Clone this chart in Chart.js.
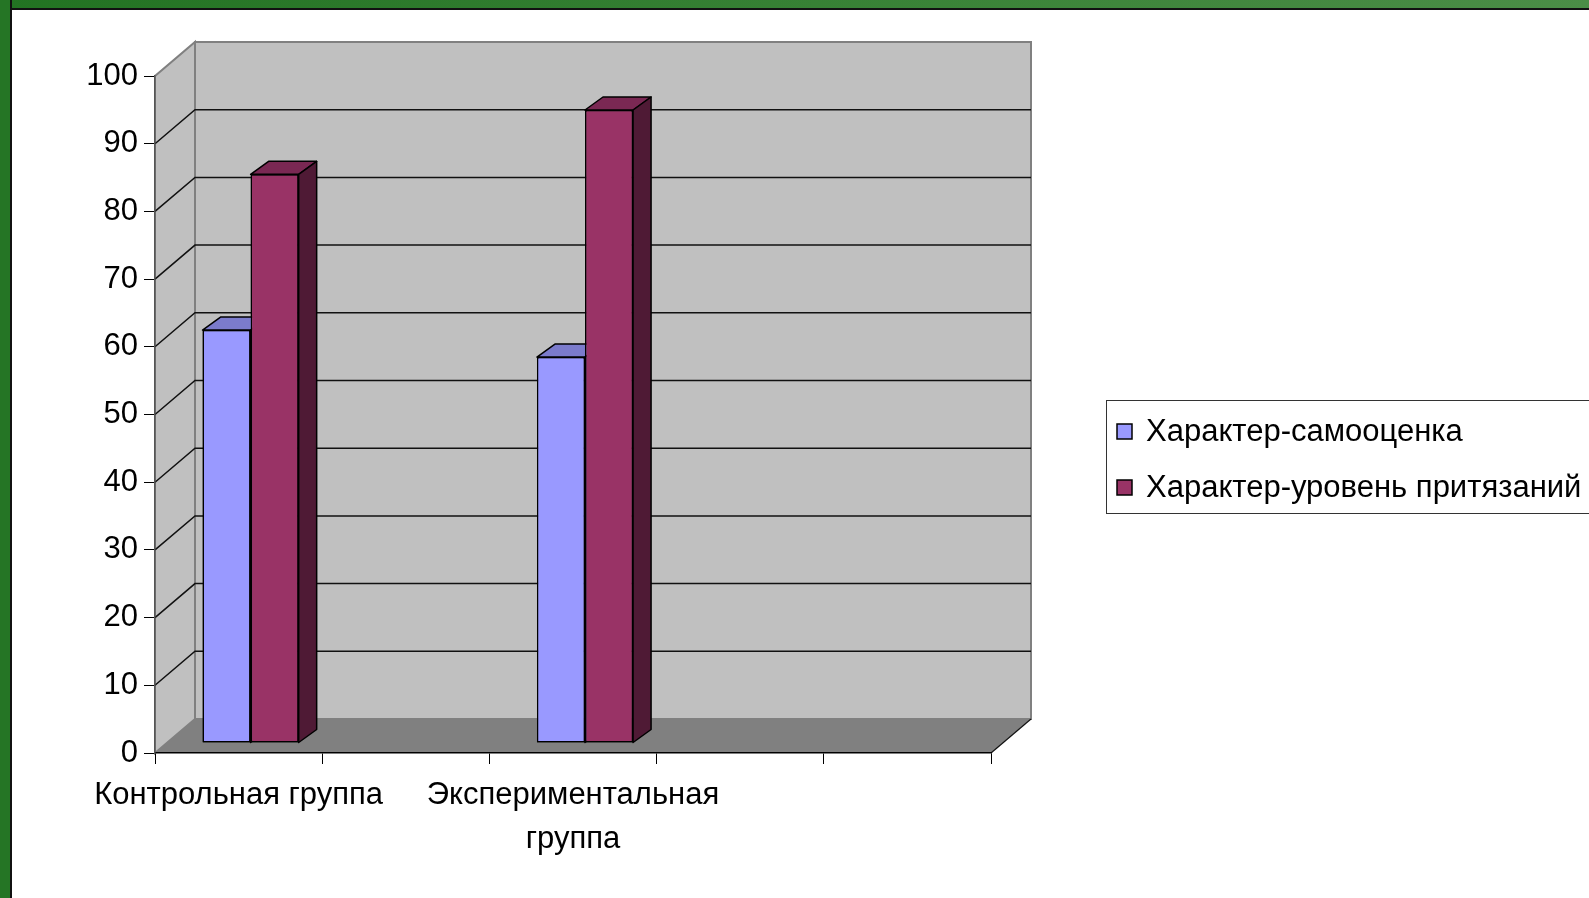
<!DOCTYPE html>
<html>
<head>
<meta charset="utf-8">
<script src="https://cdn.jsdelivr.net/npm/chart.js@4.4.0/dist/chart.umd.min.js"></script>
<style>
    html, body { margin: 0; padding: 0; background: #fff; }
    #wrap { position: relative; width: 1589px; height: 898px; overflow: hidden; }
    #chart { position: absolute; left: 0; top: 0; }
    .frame-top { position: absolute; left: 0; top: 0; width: 1589px; height: 8px; background: linear-gradient(90deg, #227322, #4b8e47); border-bottom: 2px solid #111; }
    .frame-left { position: absolute; left: 0; top: 0; width: 10px; height: 898px; background: #257525; border-right: 2px solid #111; }
</style>
</head>
<body>
<div id="wrap">
    <canvas id="chart" width="1589" height="898"></canvas>
    <div class="frame-top"></div>
    <div class="frame-left"></div>
</div>
<script>
    // data
    const categories = ['Контрольная группа', '', ['Экспериментальная', 'группа'], '', ''];
    const seriesNames = ['Характер-самооценка', 'Характер-уровень притязаний'];
    const selfEsteem = [61, null, 57, null, null];
    const aspiration = [84, null, 93.5, null, null];
    const yMin = 0, yMax = 100, yStep = 10;

    const FONT = '"Liberation Sans", Arial, sans-serif';
    const FONT_SIZE = 31;

    // fake 3d: depth of the walls, where the bars stand, how deep the bars are
    const wallDepth = { x: 40, y: -34 };
    const barShift = { x: 12, y: -10 };
    const barDepth = { x: 18, y: -13 };

    const faceColors = [
        { front: '#9999ff', top: '#7b7bcc', side: '#4d4d80' },
        { front: '#993366', top: '#7a2853', side: '#4f1a35' }
    ];

    function poly(ctx, pts) {
        ctx.beginPath();
        ctx.moveTo(pts[0][0], pts[0][1]);
        for (let i = 1; i < pts.length; i++) ctx.lineTo(pts[i][0], pts[i][1]);
        ctx.closePath();
    }

    const walls3d = {
        id: 'walls3d',
        beforeDraw(chart) {
            const { ctx, chartArea: a, scales: { y } } = chart;
            const dx = wallDepth.x, dy = wallDepth.y;
            const y0 = y.getPixelForValue(yMin), y1 = y.getPixelForValue(yMax);
            ctx.save();

            // floor
            ctx.fillStyle = '#808080';
            poly(ctx, [[a.left, y0], [a.right, y0], [a.right + dx, y0 + dy], [a.left + dx, y0 + dy]]);
            ctx.fill();

            // side wall
            ctx.fillStyle = '#c0c0c0';
            ctx.strokeStyle = '#808080';
            ctx.lineWidth = 2;
            poly(ctx, [[a.left, y0], [a.left, y1], [a.left + dx, y1 + dy], [a.left + dx, y0 + dy]]);
            ctx.fill();
            ctx.stroke();

            // back wall
            ctx.fillRect(a.left + dx, y1 + dy, a.right - a.left, y0 - y1);
            ctx.strokeRect(a.left + dx, y1 + dy, a.right - a.left, y0 - y1);

            // grid lines on the walls
            ctx.strokeStyle = '#111';
            ctx.lineWidth = 1.5;
            for (let v = yMin + yStep; v < yMax; v += yStep) {
                const py = y.getPixelForValue(v);
                ctx.beginPath();
                ctx.moveTo(a.left, py);
                ctx.lineTo(a.left + dx, py + dy);
                ctx.lineTo(a.right + dx, py + dy);
                ctx.stroke();
            }

            // right edge of the floor
            ctx.lineWidth = 1.2;
            ctx.beginPath();
            ctx.moveTo(a.right, y0);
            ctx.lineTo(a.right + dx, y0 + dy);
            ctx.stroke();
            ctx.restore();
        },
        beforeDatasetsDraw(chart) {
            chart.ctx.save();
            chart.ctx.translate(barShift.x, barShift.y);
        },
        afterDatasetsDraw(chart) {
            // redraw every bar left to right so the boxes overlap properly
            const ctx = chart.ctx;
            const bx = barDepth.x, by = barDepth.y;
            chart.data.labels.forEach((lbl, j) => {
                chart.data.datasets.forEach((ds, i) => {
                    if (ds.data[j] == null) return;
                    const el = chart.getDatasetMeta(i).data[j];
                    const col = faceColors[i];
                    const p = el.getProps(['x', 'y', 'base', 'width'], true);
                    const l = p.x - p.width / 2, r = p.x + p.width / 2;
                    el.draw(ctx);
                    ctx.save();
                    ctx.lineWidth = 1.5;
                    ctx.strokeStyle = '#000';
                    ctx.lineJoin = 'round';
                    ctx.fillStyle = col.top;
                    poly(ctx, [[l, p.y], [r, p.y], [r + bx, p.y + by], [l + bx, p.y + by]]);
                    ctx.fill();
                    ctx.stroke();
                    ctx.fillStyle = col.side;
                    poly(ctx, [[r, p.y], [r + bx, p.y + by], [r + bx, p.base + by], [r, p.base]]);
                    ctx.fill();
                    ctx.stroke();
                    ctx.restore();
                });
            });
            ctx.restore();
        }
    };

    const boxLegend = {
        id: 'boxLegend',
        afterDraw(chart) {
            const ctx = chart.ctx;
            ctx.save();
            ctx.strokeStyle = '#333';
            ctx.lineWidth = 1;
            ctx.strokeRect(1106.5, 400.5, 700, 113);
            ctx.font = FONT_SIZE + 'px ' + FONT;
            ctx.textBaseline = 'middle';
            chart.data.datasets.forEach((ds, i) => {
                const cy = 431 + i * 56;
                ctx.fillStyle = ds.backgroundColor;
                ctx.fillRect(1117, cy - 7, 15, 15);
                ctx.strokeStyle = '#000';
                ctx.lineWidth = 1.5;
                ctx.strokeRect(1117, cy - 7, 15, 15);
                ctx.fillStyle = '#000';
                ctx.fillText(ds.label, 1146, cy + 1);
            });
            ctx.restore();
        }
    };

    new Chart(document.getElementById('chart'), {
        type: 'bar',
        data: {
            labels: categories,
            datasets: [
                {
                    label: seriesNames[0],
                    data: selfEsteem,
                    backgroundColor: faceColors[0].front,
                    borderColor: '#000',
                    borderWidth: 1.5,
                    borderSkipped: false
                },
                {
                    label: seriesNames[1],
                    data: aspiration,
                    backgroundColor: faceColors[1].front,
                    borderColor: '#000',
                    borderWidth: 1.5,
                    borderSkipped: false
                }
            ]
        },
        options: {
            responsive: false,
            animation: false,
            barPercentage: 1,
            categoryPercentage: 0.575,
            layout: { padding: { left: 0, top: 76, right: 598, bottom: 0 } },
            plugins: {
                legend: { display: false },
                tooltip: { enabled: false }
            },
            scales: {
                x: {
                    afterFit: s => { s.height = 145; },
                    grid: { drawOnChartArea: false, color: '#000', tickLength: 11, offset: true },
                    border: { color: '#000', width: 1.5 },
                    ticks: {
                        color: '#000',
                        padding: 10,
                        maxRotation: 0,
                        autoSkip: false,
                        font: { family: FONT, size: FONT_SIZE, lineHeight: 1.4 }
                    }
                },
                y: {
                    min: yMin,
                    max: yMax,
                    afterFit: s => { s.width = 155; },
                    grid: { drawOnChartArea: false, color: '#000', tickLength: 11 },
                    border: { color: '#555', width: 1.5 },
                    ticks: {
                        stepSize: yStep,
                        color: '#000',
                        padding: 6,
                        font: { family: FONT, size: FONT_SIZE }
                    }
                }
            }
        },
        plugins: [walls3d, boxLegend]
    });
</script>
</body>
</html>
